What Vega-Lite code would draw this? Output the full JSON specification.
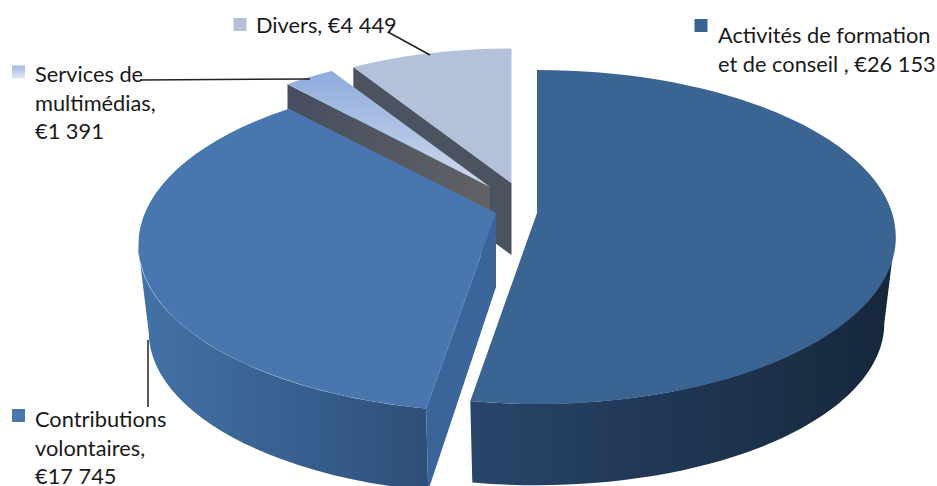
{
  "$schema": "https://vega.github.io/schema/vega-lite/v6.json",
  "width": 937,
  "height": 486,
  "padding": 0,
  "autosize": {"type": "none"},
  "background": "white",
  "config": {"view": {"stroke": null}},
  "data": {"values": [
    {"source": "Activités de formation et de conseil", "label": "Activités de formation\net de conseil , €26 153", "value": 26153},
    {"source": "Contributions volontaires", "label": "Contributions\nvolontaires,\n€17 745", "value": 17745},
    {"source": "Services de multimédias", "label": "Services de\nmultimédias,\n€1 391", "value": 1391},
    {"source": "Divers", "label": "Divers, €4 449", "value": 4449}
  ]},
  "transform": [
    {"joinaggregate": [{"op": "sum", "field": "value", "as": "total"}]},
    {"window": [{"op": "row_number", "as": "rank"}, {"op": "sum", "field": "value", "as": "cum"}]},
    {"calculate": "datum.rank - 1", "as": "i"},
    {"calculate": "2 * PI * datum.cum / datum.total", "as": "t1"},
    {"calculate": "datum.t1 - 2 * PI * datum.value / datum.total", "as": "t0"},
    {"calculate": "[537, 496, 490, 511.5][datum.i]", "as": "ax"},
    {"calculate": "[213, 213, 187, 183][datum.i]", "as": "ay"},
    {"calculate": "[1, 1, 0.94, 0.94][datum.i]", "as": "k"},
    {"calculate": "[0.1437, 0.191, 0.1437, 0.1437][datum.i]", "as": "p"},
    {"calculate": "[354.3, 351.4, 354.3, 354.3][datum.i]", "as": "qx"},
    {"calculate": "[163.5, 160.8, 163.5, 163.5][datum.i]", "as": "qy"},
    {"calculate": "[24, 32, 24, 24][datum.i]", "as": "drop"},
    {"calculate": "[87, 88, 72, 72][datum.i]", "as": "depth"},
    {"calculate": "[74, 74, 72, 72][datum.i]", "as": "apexDepth"},
    {"calculate": "round(10 * datum.k * datum.qx * sin(datum.t0) / (1 + datum.p * cos(datum.t0))) / 10", "as": "x0"},
    {"calculate": "round(-10 * datum.k * datum.qy * cos(datum.t0) / (1 + datum.p * cos(datum.t0))) / 10", "as": "y0"},
    {"calculate": "round(10 * datum.k * datum.qx * sin(datum.t1) / (1 + datum.p * cos(datum.t1))) / 10", "as": "x1"},
    {"calculate": "round(-10 * datum.k * datum.qy * cos(datum.t1) / (1 + datum.p * cos(datum.t1))) / 10", "as": "y1"},
    {"calculate": "datum.k * 358", "as": "rx"},
    {"calculate": "datum.k * 167", "as": "ry"},
    {"calculate": "'M0 0L' + datum.x0 + ' ' + datum.y0 + 'A' + datum.rx + ' ' + datum.ry + ' 0 ' + (datum.t1 - datum.t0 > 3 ? 1 : 0) + ' 1 ' + datum.x1 + ' ' + datum.y1 + 'Z'", "as": "topPath"},
    {"calculate": "'M0 0L' + datum.x0 + ' ' + datum.y0 + 'L' + round(10 * datum.x0 * (datum.i == 1 ? 0.97 : 1)) / 10 + ' ' + round(10 * (datum.y0 * (datum.i == 1 ? 0.97 : 1) + datum.depth)) / 10 + 'L0 ' + datum.apexDepth + 'Z'", "as": "facePath"},
    {"calculate": "datum.i == 0 ? 358 : datum.x0", "as": "wx0"},
    {"calculate": "datum.i == 0 ? datum.drop : datum.y0", "as": "wy0"},
    {"calculate": "datum.i == 0 ? datum.x1 : -358", "as": "wx1"},
    {"calculate": "datum.i == 0 ? datum.y1 : datum.drop", "as": "wy1"},
    {"calculate": "'M' + datum.wx0 + ' ' + datum.wy0 + 'A358 167 0 0 1 ' + datum.wx1 + ' ' + datum.wy1 + 'L' + round(9.7 * datum.wx1) / 10 + ' ' + round(9.7 * datum.wy1 + 10 * datum.depth) / 10 + 'A347 162 0 0 0 ' + round(9.7 * datum.wx0) / 10 + ' ' + round(9.7 * datum.wy0 + 10 * datum.depth) / 10 + 'Z'", "as": "wallPath"},
    {"calculate": "[718, 35, 35, 256][datum.i]", "as": "labelX"},
    {"calculate": "[43, 427, 82, 33][datum.i]", "as": "labelY"},
    {"calculate": "[701, 18.5, 18.5, 240][datum.i]", "as": "keyX"},
    {"calculate": "[25.5, 415.5, 72, 24.5][datum.i]", "as": "keyY"},
    {"calculate": "[0, 148, 140, 388][datum.i]", "as": "leadX"},
    {"calculate": "[0, 340, 80, 32][datum.i]", "as": "leadY"},
    {"calculate": "[0, 148, 310, 430][datum.i]", "as": "leadX2"},
    {"calculate": "[0, 407, 79, 55][datum.i]", "as": "leadY2"}
  ],
  "encoding": {
    "x": {"field": "ax", "type": "quantitative", "axis": null, "scale": {"domain": [0, 937], "range": [0, 937], "zero": false, "nice": false}},
    "y": {"field": "ay", "type": "quantitative", "axis": null, "scale": {"domain": [0, 486], "range": [0, 486], "zero": false, "nice": false}},
    "size": {"value": 4}
  },
  "layer": [
    {
      "transform": [{"filter": "datum.i == 3"}],
      "mark": {"type": "point", "filled": true, "opacity": 1, "fill": "#4b5361"},
      "encoding": {"shape": {"field": "facePath", "type": "nominal", "scale": null}}
    },
    {
      "transform": [{"filter": "datum.i == 3"}],
      "mark": {"type": "point", "filled": true, "opacity": 1, "fill": "#b3c2da"},
      "encoding": {"shape": {"field": "topPath", "type": "nominal", "scale": null}}
    },
    {
      "transform": [{"filter": "datum.i == 2"}],
      "mark": {"type": "point", "filled": true, "opacity": 1, "fill": {"x1": 0, "y1": 0, "x2": 1, "y2": 0, "gradient": "linear", "stops": [{"offset": 0, "color": "#454e5f"}, {"offset": 1, "color": "#616265"}]}},
      "encoding": {"shape": {"field": "facePath", "type": "nominal", "scale": null}}
    },
    {
      "transform": [{"filter": "datum.i == 2"}],
      "mark": {"type": "point", "filled": true, "opacity": 1, "fill": {"x1": 0, "y1": 0, "x2": 0, "y2": 1, "gradient": "linear", "stops": [{"offset": 0, "color": "#8eabdc"}, {"offset": 1, "color": "#d0daee"}]}},
      "encoding": {"shape": {"field": "topPath", "type": "nominal", "scale": null}}
    },
    {
      "transform": [{"filter": "datum.i == 1"}],
      "mark": {"type": "point", "filled": true, "opacity": 1, "fill": {"x1": 0, "y1": 0, "x2": 1, "y2": 0, "gradient": "linear", "stops": [{"offset": 0, "color": "#4372a8"}, {"offset": 1, "color": "#2e4f78"}]}},
      "encoding": {"shape": {"field": "wallPath", "type": "nominal", "scale": null}}
    },
    {
      "transform": [{"filter": "datum.i == 1"}],
      "mark": {"type": "point", "filled": true, "opacity": 1, "fill": "#3a659a"},
      "encoding": {"shape": {"field": "facePath", "type": "nominal", "scale": null}}
    },
    {
      "transform": [{"filter": "datum.i == 1"}],
      "mark": {"type": "point", "filled": true, "opacity": 1, "fill": "#4877b0"},
      "encoding": {"shape": {"field": "topPath", "type": "nominal", "scale": null}}
    },
    {
      "transform": [{"filter": "datum.i == 0"}],
      "mark": {"type": "point", "filled": true, "opacity": 1, "fill": {"x1": 0, "y1": 0, "x2": 1, "y2": 0, "gradient": "linear", "stops": [{"offset": 0, "color": "#28456a"}, {"offset": 1, "color": "#16273b"}]}},
      "encoding": {"shape": {"field": "wallPath", "type": "nominal", "scale": null}}
    },
    {
      "transform": [{"filter": "datum.i == 0"}],
      "mark": {"type": "point", "filled": true, "opacity": 1, "fill": "#3a6492"},
      "encoding": {"shape": {"field": "topPath", "type": "nominal", "scale": null}}
    },
    {
      "transform": [{"filter": "datum.i > 0"}],
      "mark": {"type": "rule", "color": "#222222", "strokeWidth": 1.5},
      "encoding": {
        "x": {"field": "leadX", "type": "quantitative"},
        "y": {"field": "leadY", "type": "quantitative"},
        "x2": {"field": "leadX2"},
        "y2": {"field": "leadY2"},
        "size": {"value": 1.5}
      }
    },
    {
      "transform": [{"filter": "datum.i != 2"}],
      "mark": {"type": "point", "filled": true, "opacity": 1, "shape": "square"},
      "encoding": {
        "x": {"field": "keyX", "type": "quantitative"},
        "y": {"field": "keyY", "type": "quantitative"},
        "size": {"value": 169},
        "fill": {"field": "source", "type": "nominal", "legend": null, "scale": {"domain": ["Activités de formation et de conseil", "Contributions volontaires", "Divers"], "range": ["#3a6492", "#4877b0", "#b3c2da"]}}
      }
    },
    {
      "transform": [{"filter": "datum.i == 2"}],
      "mark": {"type": "point", "filled": true, "opacity": 1, "shape": "square", "fill": {"x1": 0, "y1": 0, "x2": 0, "y2": 1, "gradient": "linear", "stops": [{"offset": 0, "color": "#a3b9e4"}, {"offset": 1, "color": "#e2e8f4"}]}},
      "encoding": {
        "x": {"field": "keyX", "type": "quantitative"},
        "y": {"field": "keyY", "type": "quantitative"},
        "size": {"value": 169}
      }
    },
    {
      "mark": {"type": "text", "align": "left", "baseline": "alphabetic", "font": "Lato", "fontSize": 21.8, "lineHeight": 28.7, "lineBreak": "\n", "color": "#1a1a1a"},
      "encoding": {
        "x": {"field": "labelX", "type": "quantitative"},
        "y": {"field": "labelY", "type": "quantitative"},
        "text": {"field": "label", "type": "nominal"},
        "size": {"value": 21.8}
      }
    }
  ]
}
